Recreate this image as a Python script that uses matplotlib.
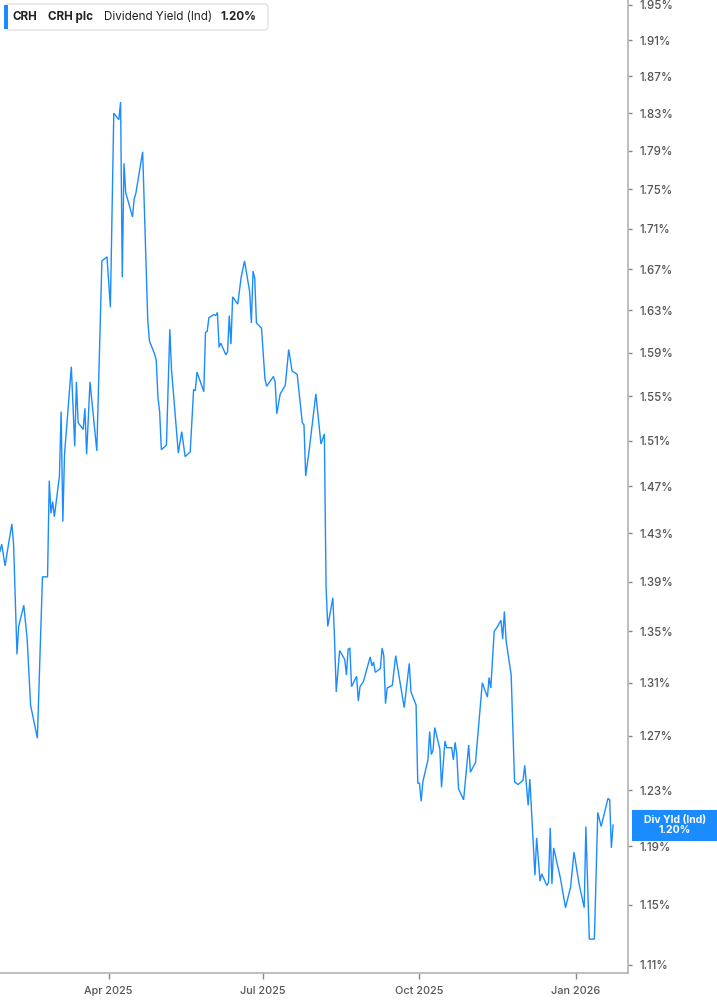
import matplotlib
matplotlib.use("Agg")
import matplotlib.pyplot as plt
import matplotlib.dates as mdates
from matplotlib.patches import Rectangle, FancyBboxPatch
from matplotlib.transforms import blended_transform_factory
import numpy as np
import pandas as pd

plt.rcParams['font.family'] = ['Inter', 'DejaVu Sans']

start_date = "2025-01-27"
day_offsets = [0, 1, 3, 5, 7, 8, 10, 11, 14, 16, 18, 22, 25, 28, 29, 30, 31, 32, 35, 36,
               37, 38, 42, 44, 45, 46, 49, 50, 51, 53, 57, 60, 63, 65, 67, 70, 71, 72, 73, 74,
               78, 79, 80, 84, 87, 88, 91, 92, 93, 94, 95, 98, 100, 101, 105, 107, 109, 112, 114, 115,
               116, 120, 121, 122, 123, 126, 127, 128, 129, 130, 133, 134, 135, 136, 137, 140, 142, 144, 147, 148,
               149, 150, 151, 154, 156, 157, 161, 162, 163, 165, 168, 170, 172, 175, 178, 179, 180, 182, 186, 189,
               191, 192, 193, 196, 197, 198, 200, 203, 204, 205, 206, 207, 210, 211, 212, 214, 218, 219, 220, 221,
               224, 225, 226, 227, 228, 231, 233, 235, 238, 241, 242, 245, 246, 247, 248, 249, 252, 253, 254, 255,
               256, 259, 260, 262, 263, 266, 267, 268, 269, 270, 273, 276, 277, 280, 282, 284, 287, 288, 289, 291,
               293, 295, 296, 297, 298, 301, 303, 305, 308, 309, 311, 312, 315, 316, 318, 319, 322, 323, 324, 325,
               326, 330, 333, 336, 338, 341, 344, 345, 347, 350, 352, 354, 358, 359, 360, 361]
div_yield = [1.415, 1.421, 1.403, 1.421, 1.438, 1.421, 1.332, 1.354, 1.371, 1.344, 1.293, 1.268, 1.394, 1.394, 1.475, 1.447, 1.457, 1.444, 1.479, 1.536,
             1.440, 1.498, 1.577, 1.505, 1.563, 1.526, 1.520, 1.539, 1.498, 1.563, 1.501, 1.678, 1.682, 1.633, 1.830, 1.823, 1.842, 1.662, 1.777, 1.747,
             1.722, 1.740, 1.746, 1.789, 1.621, 1.601, 1.589, 1.583, 1.549, 1.536, 1.502, 1.506, 1.612, 1.574, 1.499, 1.518, 1.496, 1.500, 1.556, 1.555,
             1.572, 1.554, 1.609, 1.610, 1.623, 1.626, 1.625, 1.628, 1.595, 1.599, 1.588, 1.591, 1.625, 1.598, 1.643, 1.636, 1.662, 1.678, 1.648, 1.618,
             1.668, 1.661, 1.618, 1.613, 1.566, 1.559, 1.568, 1.563, 1.534, 1.552, 1.560, 1.593, 1.573, 1.570, 1.526, 1.524, 1.479, 1.501, 1.552, 1.507,
             1.516, 1.386, 1.354, 1.377, 1.344, 1.303, 1.335, 1.328, 1.316, 1.336, 1.337, 1.307, 1.315, 1.296, 1.307, 1.311, 1.330, 1.323, 1.326, 1.318,
             1.321, 1.337, 1.331, 1.294, 1.306, 1.308, 1.331, 1.315, 1.291, 1.325, 1.303, 1.293, 1.235, 1.235, 1.222, 1.236, 1.252, 1.273, 1.256, 1.259,
             1.276, 1.260, 1.232, 1.266, 1.261, 1.261, 1.252, 1.265, 1.256, 1.231, 1.223, 1.263, 1.243, 1.250, 1.280, 1.310, 1.299, 1.314, 1.306, 1.350,
             1.354, 1.359, 1.344, 1.366, 1.343, 1.316, 1.236, 1.234, 1.237, 1.248, 1.219, 1.238, 1.170, 1.196, 1.166, 1.171, 1.163, 1.165, 1.203, 1.164,
             1.189, 1.168, 1.148, 1.162, 1.186, 1.164, 1.148, 1.204, 1.127, 1.127, 1.214, 1.204, 1.224, 1.223, 1.189, 1.205]

y_ticks = [1.11, 1.15, 1.19, 1.23, 1.27, 1.31, 1.35, 1.39, 1.43, 1.47, 1.51, 1.55,
           1.59, 1.63, 1.67, 1.71, 1.75, 1.79, 1.83, 1.87, 1.91, 1.95]
x_tick_dates = ["2025-04-01", "2025-07-01", "2025-10-01", "2026-01-01"]
x_tick_labels = ["Apr 2025", "Jul 2025", "Oct 2025", "Jan 2026"]

ticker_text = "CRH"
company_text = "CRH plc"
metric_text = "Dividend Yield (Ind)"
last_label = "1.20%"
box_label = "Div Yld (Ind)"

LINE = "#1a8cff"
GREY = "#b3b3b3"
TXT = "#555555"

dates = pd.to_datetime(start_date) + pd.to_timedelta(day_offsets, unit="D")

fig = plt.figure(figsize=(7.17, 10.05), dpi=100)
ax = fig.add_axes([0.0, 1 - 973 / 1005, 628 / 717, 973 / 1005])

ax.plot(dates, div_yield, color=LINE, lw=1.0, solid_joinstyle="miter")

ax.set_yscale("log")
ax.set_ylim(1.1048, 1.9557)
ax.set_xlim(pd.to_datetime(start_date), pd.to_datetime(start_date) + pd.Timedelta(days=369.8))

ax.yaxis.tick_right()
ax.set_yticks(y_ticks)
ax.set_yticklabels([f"{t:.2f}%" for t in y_ticks])
ax.yaxis.set_minor_locator(matplotlib.ticker.NullLocator())
ax.set_xticks(pd.to_datetime(x_tick_dates))
ax.set_xticklabels(x_tick_labels)
ax.xaxis.set_minor_locator(matplotlib.ticker.NullLocator())

ax.tick_params(axis="y", which="major", length=3, width=1, color="#888888",
               labelsize=8.3, labelcolor=TXT, pad=5)
ax.tick_params(axis="x", which="major", length=4, width=1, color="#888888",
               labelsize=7.8, labelcolor=TXT, pad=5)
for lab in ax.get_xticklabels() + ax.get_yticklabels():
    lab.set_fontweight("medium")

for s in ["top", "left"]:
    ax.spines[s].set_visible(False)
ax.spines["right"].set_color(GREY)
ax.spines["bottom"].set_color(GREY)
ax.spines["right"].set_linewidth(1.2)
ax.spines["bottom"].set_linewidth(1.2)

# last value label box on right axis
last = div_yield[-1]
tr = blended_transform_factory(ax.transAxes, ax.transData)
half = np.exp(15.5 / 1703.7)
ax.add_patch(Rectangle((1.0064, last / half), 0.14, last * half - last / half,
                       transform=tr, facecolor=LINE, edgecolor="none", clip_on=False, zorder=5))
ax.text(1.0064 + 0.0685, last, f"{box_label}\n{last_label}", transform=tr, ha="center", va="center",
        color="white", fontsize=7.5, fontweight="bold", linespacing=1.05, zorder=6, clip_on=False)

# legend box top left
W, H = 717, 1005
fig.patches.append(FancyBboxPatch((5 / W, 1 - 30 / H), 263 / W, 26 / H,
                                  boxstyle="round,pad=0,rounding_size=0.004",
                                  transform=fig.transFigure, facecolor="white",
                                  edgecolor="#e3e3e3", lw=1.0, zorder=10))
fig.patches.append(Rectangle((4 / W, 1 - 29 / H), 3.5 / W, 24 / H, transform=fig.transFigure,
                             facecolor=LINE, edgecolor="none", zorder=11))
ty = 1 - 17 / H
fs = 8.4
fig.text(13 / W, ty, ticker_text, fontsize=fs, fontweight="bold", color="#222222", va="center", zorder=12)
fig.text(48 / W, ty, company_text, fontsize=fs, fontweight="bold", color="#222222", va="center", zorder=12)
fig.text(104 / W, ty, metric_text, fontsize=fs, color="#222222", va="center", zorder=12)
fig.text(220 / W, ty, last_label, fontsize=fs, fontweight="bold", color="#222222", va="center", zorder=12)

fig.savefig("out.png", dpi=100)
